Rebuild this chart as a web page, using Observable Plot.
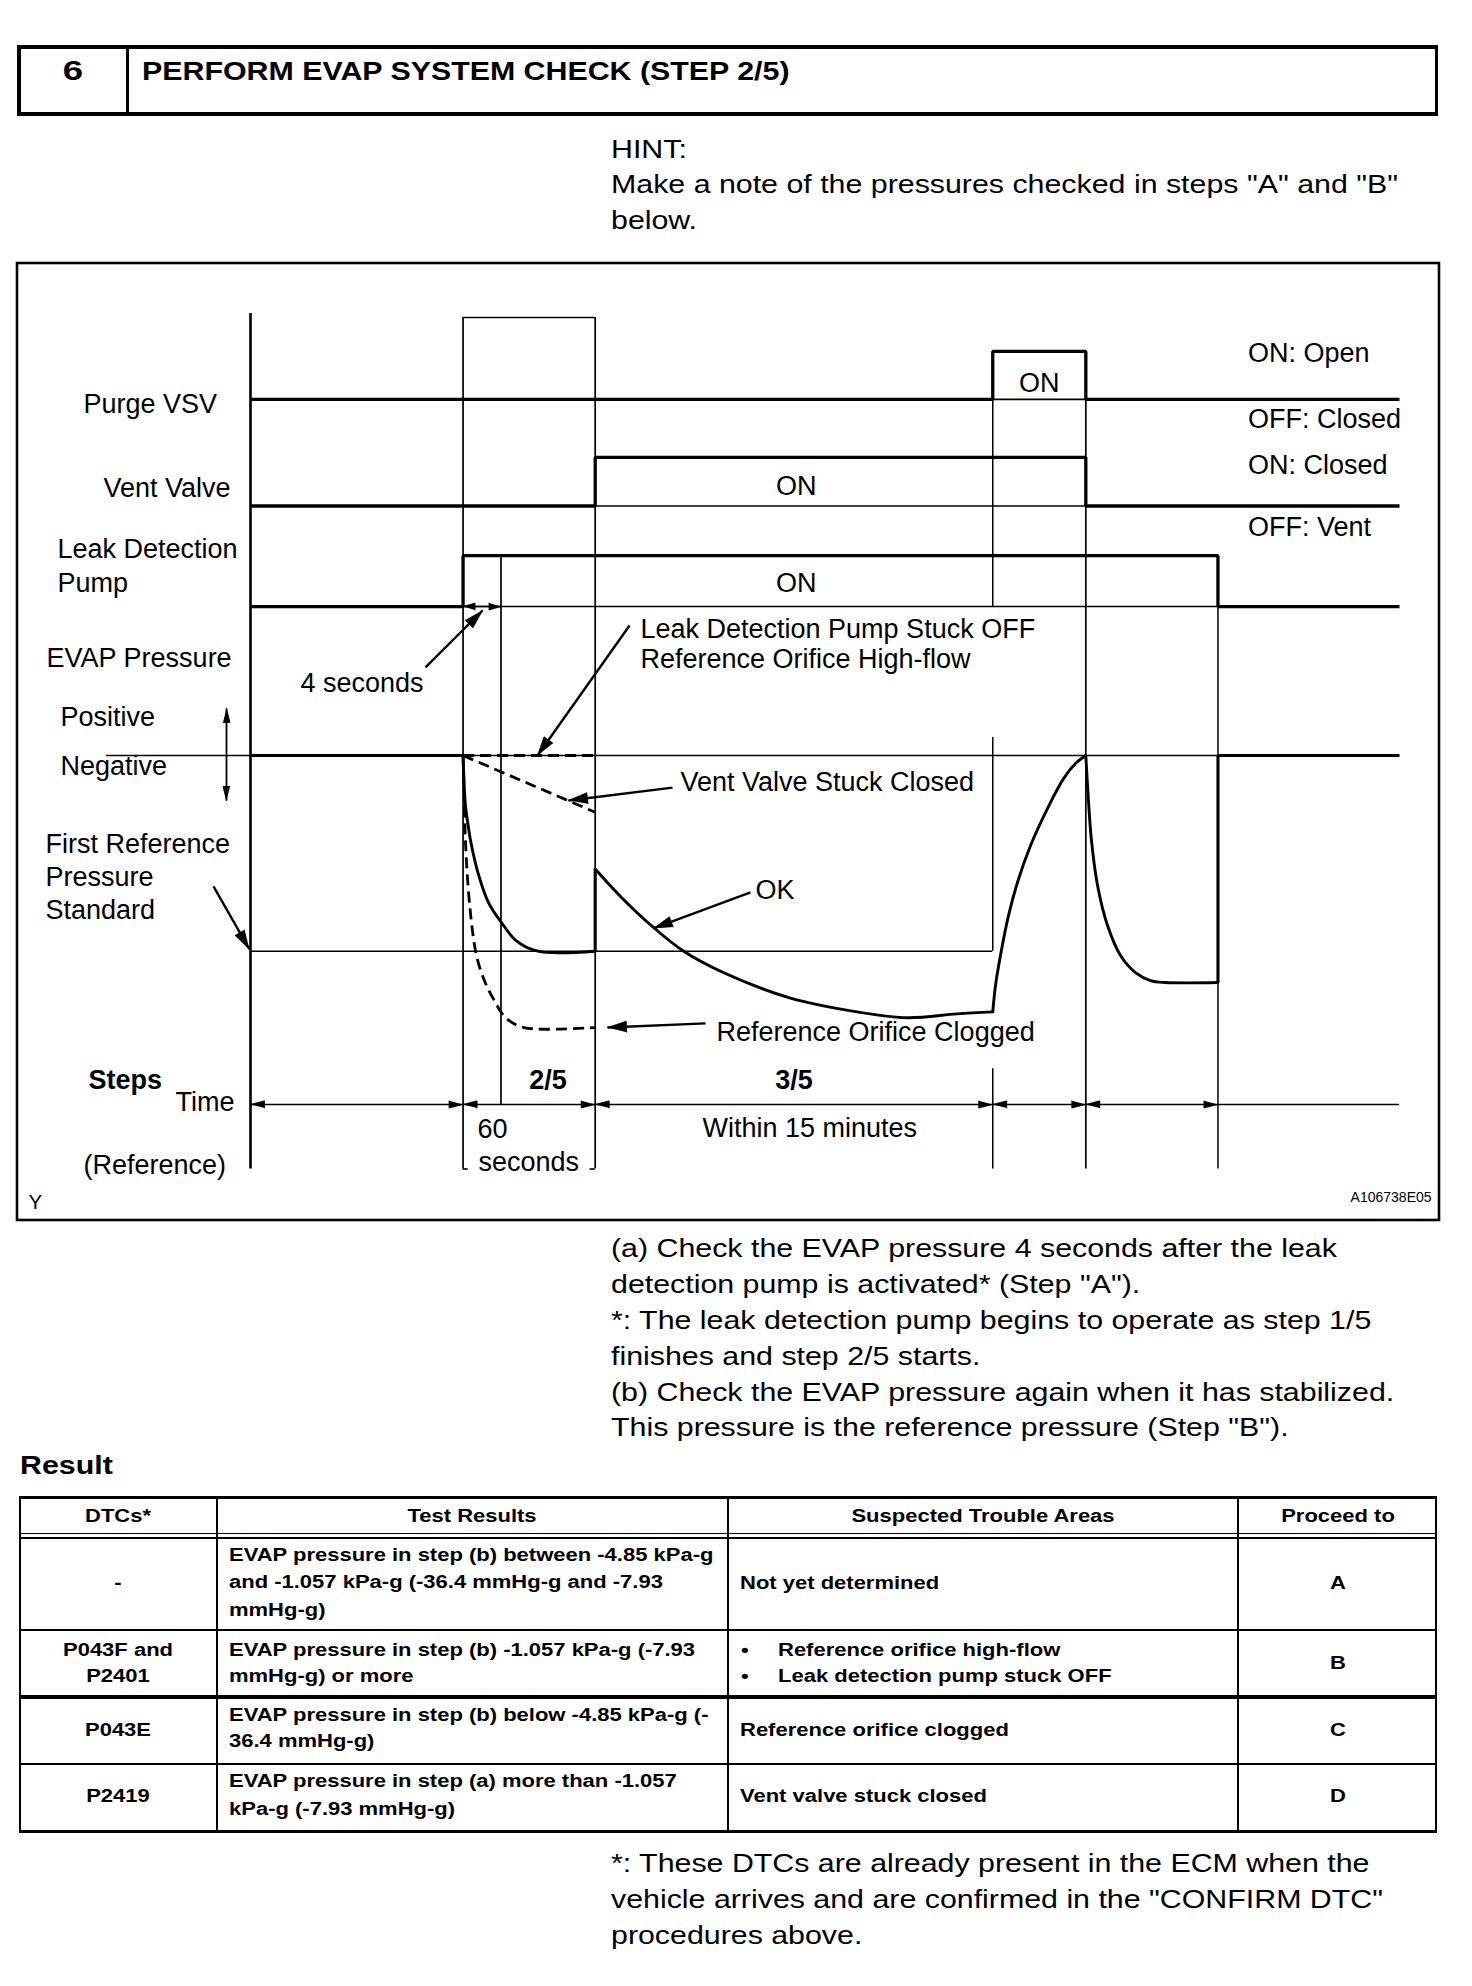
<!DOCTYPE html>
<html>
<head>
<meta charset="utf-8">
<script src="https://cdn.jsdelivr.net/npm/d3@7"></script>
<script src="https://cdn.jsdelivr.net/npm/@observablehq/plot@0.6"></script>
<style>
html, body { margin: 0; padding: 0; background: #fff; }
#page { position: relative; width: 1472px; height: 1986px; overflow: hidden; background: #fff;
  font-family: "Liberation Sans", Arial, Helvetica, sans-serif; color: #000; }
.t { position: absolute; white-space: nowrap; line-height: 1; transform-origin: 0 0; }
.ln { position: absolute; background: #000; }
#chart { position: absolute; left: 15px; top: 261px; }
</style>
</head>
<body>
<div id="page"><div id="chart"></div></div>
<script>
// ---------------- DATA ----------------
// schematic timeline units (0 = left axis, 100 = right end of the traces)
const eventNames = ["start", "pump ON / step 2/5", "4 seconds", "step 3/5 / vent ON", "purge VSV ON", "purge VSV OFF", "pump OFF", "end"];
const eventTimes = [0, 18.5, 21.8, 30.0, 64.6, 72.7, 84.2, 100];
const stepLabels = ["2/5", "3/5"];

// signal states (0 = OFF, 1 = ON)
const purgeVSV  = [[0, 0], [64.6, 1], [72.7, 0], [100, 0]];
const ventValve = [[0, 0], [30.0, 1], [72.7, 0], [100, 0]];
const leakPump  = [[0, 0], [18.5, 1], [84.2, 0], [100, 0]];
const rowNames = ["Purge VSV", "Vent Valve", "Leak Detection", "Pump", "EVAP Pressure"];
const stateNames = ["ON: Open", "OFF: Closed", "ON: Closed", "OFF: Vent"];

// EVAP pressure relative to atmosphere (0), -1 = first reference pressure standard
const okBefore = [[0, 0], [18.5, 0]];
const okStep2  = [[18.5, 0], [18.7, -0.25], [19.0, -0.38], [19.2, -0.45], [19.8, -0.60], [20.7, -0.75], [21.8, -0.85], [23.2, -0.95], [25.0, -1.0], [30.0, -1.0]];
const okJump   = [[30.0, -1.0], [30.0, -0.58]];
const okStep3  = [[30.0, -0.58], [32.2, -0.72], [35.1, -0.88], [37.7, -1.0], [41.2, -1.11], [47.0, -1.24], [52.8, -1.31], [57.2, -1.34], [61.5, -1.32], [64.6, -1.31]];
const okPurge  = [[64.6, -1.31], [64.84, -1.175], [65.27, -1.022], [65.97, -0.818], [66.75, -0.649], [67.89, -0.46], [69.36, -0.271], [70.76, -0.118], [71.8, -0.041], [72.7, 0]];
const okAfter  = [[72.7, 0], [72.93, -0.23], [73.19, -0.434], [73.72, -0.664], [74.59, -0.869], [75.72, -1.022], [77.02, -1.109], [78.33, -1.15], [79.63, -1.16], [84.2, -1.16]];
const okEnd    = [[84.2, -1.16], [84.2, 0], [100, 0]];
const pumpStuckOff    = [[18.5, 0], [30.0, 0]];
const ventStuckClosed = [[18.5, 0], [30.0, -0.29]];
const orificeClogged  = [[18.5, 0], [18.6, -0.2], [18.7, -0.43], [19.1, -0.78], [19.7, -1.03], [20.5, -1.17], [21.2, -1.25], [22.2, -1.34], [23.8, -1.39], [30.0, -1.39]];
const firstReferencePressure = -1;

// result table
const tableHeaders = ["DTCs*", "Test Results", "Suspected Trouble Areas", "Proceed to"];
const dtcs = [["-"], ["P043F and", "P2401"], ["P043E"], ["P2419"]];
const testResults = [
  ["EVAP pressure in step (b) between -4.85 kPa-g", "and -1.057 kPa-g (-36.4 mmHg-g and -7.93", "mmHg-g)"],
  ["EVAP pressure in step (b) -1.057 kPa-g (-7.93", "mmHg-g) or more"],
  ["EVAP pressure in step (b) below -4.85 kPa-g (-", "36.4 mmHg-g)"],
  ["EVAP pressure in step (a) more than -1.057", "kPa-g (-7.93 mmHg-g)"]
];
const troubleAreas = [["Not yet determined"], ["Reference orifice high-flow", "Leak detection pump stuck OFF"], ["Reference orifice clogged"], ["Vent valve stuck closed"]];
const proceedTo = ["A", "B", "C", "D"];

const hintLines = ["HINT:", "Make a note of the pressures checked in steps \"A\" and \"B\"", "below."];
const noteLines = [
  "(a) Check the EVAP pressure 4 seconds after the leak",
  "detection pump is activated* (Step \"A\").",
  "*: The leak detection pump begins to operate as step 1/5",
  "finishes and step 2/5 starts.",
  "(b) Check the EVAP pressure again when it has stabilized.",
  "This pressure is the reference pressure (Step \"B\")."
];
const footLines = [
  "*: These DTCs are already present in the ECM when the",
  "vehicle arrives and are confirmed in the \"CONFIRM DTC\"",
  "procedures above."
];

// ---------------- HTML PARTS ----------------
const page = document.getElementById("page");
function txt(str, x, base, o = {}) {
  const size = o.size ?? 25.5, sx = o.sx ?? 1.19;
  const d = document.createElement("div");
  d.className = "t";
  d.textContent = str;
  d.style.fontSize = size + "px";
  if (o.bold) d.style.fontWeight = "bold";
  d.style.left = x + "px";
  d.style.top = (base - 0.8465 * size) + "px";
  d.style.transform = o.center ? `scaleX(${sx}) translateX(-50%)` : `scaleX(${sx})`;
  page.appendChild(d);
}
function bar(x, y, w, h) {
  const d = document.createElement("div");
  d.className = "ln";
  Object.assign(d.style, {left: x + "px", top: y + "px", width: w + "px", height: h + "px"});
  page.appendChild(d);
}
// header box
bar(17, 45, 1421, 3.5); bar(17, 112, 1421, 4); bar(17, 45, 3.5, 71); bar(1434.5, 45, 3.5, 71); bar(125.5, 45, 3.5, 71);
txt("6", 73, 81, {bold: true, center: true, size: 27, sx: 1.35});
txt("PERFORM EVAP SYSTEM CHECK (STEP 2/5)", 142, 81, {bold: true});
hintLines.forEach((s, i) => txt(s, 611, 158.3 + i * 35.5));
noteLines.forEach((s, i) => txt(s, 611, 1258 + i * 35.8));
txt("Result", 20, 1475, {bold: true});
footLines.forEach((s, i) => txt(s, 611, 1873 + i * 36));

// table
const TX = [18.5, 216.5, 728, 1238, 1437];
bar(18.5, 1496, 1418.5, 3);
bar(18.5, 1532.5, 1418.5, 1.8); bar(18.5, 1537, 1418.5, 1.8);
bar(18.5, 1629, 1418.5, 2); bar(18.5, 1694.5, 1418.5, 4); bar(18.5, 1762.5, 1418.5, 2.5); bar(18.5, 1829.5, 1418.5, 3);
bar(18.5, 1496, 2.5, 336); bar(215.5, 1496, 2, 336); bar(727, 1496, 2, 336); bar(1237, 1496, 2, 336); bar(1434.5, 1496, 2.5, 336);
const TF = {size: 17.6, sx: 1.25, bold: true};
const colCenter = i => (TX[i] + TX[i + 1]) / 2;
tableHeaders.forEach((h, i) => txt(h, colCenter(i), 1523, {...TF, center: true}));
const rowTestBase = [[1562, 1588.5, 1616.5], [1657, 1683], [1722, 1748], [1788, 1816]];
const rowMid = [1590, 1670, 1737, 1803];
dtcs.forEach((lines, r) => {
  const bases = lines.length === 1 ? [rowMid[r]] : rowTestBase[r];
  lines.forEach((s, k) => txt(s, colCenter(0), bases[k], {...TF, center: true}));
});
testResults.forEach((lines, r) => lines.forEach((s, k) => txt(s, 229, rowTestBase[r][k], TF)));
troubleAreas.forEach((lines, r) => {
  if (lines.length === 1) txt(lines[0], 740, rowMid[r], TF);
  else lines.forEach((s, k) => { txt("\u2022", 741, rowTestBase[r][k], TF); txt(s, 778, rowTestBase[r][k], TF); });
});
proceedTo.forEach((s, r) => txt(s, colCenter(3), rowMid[r], {...TF, center: true}));

// ---------------- DIAGRAM (Observable Plot) ----------------
const X_DOMAIN = [0, 100], X_RANGE = [235, 1384];
const Y_DOMAIN = [-1, 0], Y_RANGE = [689.7, 494];
const kx = (X_RANGE[1] - X_RANGE[0]) / (X_DOMAIN[1] - X_DOMAIN[0]);
const ky = (Y_RANGE[0] - Y_RANGE[1]) / (Y_DOMAIN[1] - Y_DOMAIN[0]);
const [T0, T_PUMP, T_4S, T_VENT, T_PURGE_ON, T_PURGE_OFF, T_PUMP_OFF, T_END] = eventTimes;

// layout of the signal rows (in pressure units of the y scale)
const ROWS = {purge: {base: 1.82, amp: 0.245}, vent: {base: 1.275, amp: 0.248}, pump: {base: 0.761, amp: 0.26}};
const V_TIME = -1.783, V_BOTTOM = -2.113, V_BOX = 2.238, V_AXIS_TOP = 2.259;
const rowY = (row, s) => ROWS[row].base + s * ROWS[row].amp;

const signals = [["purge", purgeVSV], ["vent", ventValve], ["pump", leakPump]];
const signalData = signals.flatMap(([row, arr]) => arr.map(([t, s]) => ({id: row, t, v: rowY(row, s)})));
// thin OFF baselines under each ON interval
const onBase = signals.flatMap(([row, arr]) => {
  const out = [];
  for (let i = 0; i < arr.length - 1; i++) if (arr[i][1] === 1) out.push({t1: arr[i][0], t2: arr[i + 1][0], v: rowY(row, 0)});
  return out;
});

const seg = (arr, id) => arr.map(([t, v]) => ({id, t, v}));
const okStraight = [...seg(okBefore, "a"), ...seg(okJump, "b"), ...seg(okEnd, "c")];
const okCurved = [...seg(okStep2, "a"), ...seg(okStep3, "b"), ...seg(okPurge, "c"), ...seg(okAfter, "d")];
const dashStraight = [...seg(pumpStuckOff, "a"), ...seg(ventStuckClosed, "b")];
const dashCurved = seg(orificeClogged, "c");

const vGuides = [
  {t: T0, v1: V_AXIS_TOP, v2: V_BOTTOM, w: 2.6},
  {t: T_PUMP, v1: V_BOX, v2: V_BOTTOM, w: 1.7},
  {t: T_4S, v1: rowY("pump", 1), v2: V_TIME, w: 1.7},
  {t: T_VENT, v1: V_BOX, v2: V_BOTTOM, w: 1.7},
  {t: T_PURGE_ON, v1: rowY("purge", 1), v2: rowY("pump", 0), w: 1.5},
  {t: T_PURGE_ON, v1: 0.092, v2: firstReferencePressure, w: 1.5},
  {t: T_PURGE_ON, v1: -1.601, v2: V_BOTTOM, w: 1.5},
  {t: T_PURGE_OFF, v1: rowY("purge", 1), v2: V_BOTTOM, w: 1.7},
  {t: T_PUMP_OFF, v1: rowY("pump", 1), v2: V_BOTTOM, w: 1.5}
];
const hGuides = [
  {t1: -12.53, t2: T_END, v: 0},
  {t1: T0, t2: T_PURGE_ON, v: firstReferencePressure},
  {t1: T_PUMP, t2: T_VENT, v: V_BOX},
  {t1: T0, t2: T_END, v: V_TIME},
  {t1: T_PUMP, t2: T_PUMP + 0.45, v: V_BOTTOM},
  {t1: T_VENT - 0.45, t2: T_VENT, v: V_BOTTOM},
  ...onBase
];

// arrow heads (filled triangles) computed in screen space
const heads = [];
let hid = 0;
function addHead(tip, from, len, r) {
  const dx = (tip[0] - from[0]) * kx, dy = -(tip[1] - from[1]) * ky;
  const n = Math.hypot(dx, dy), ux = dx / n, uy = dy / n;
  const bx = -ux * len, by = -uy * len, nx = -uy * r, ny = ux * r;
  const id = hid++;
  for (const [px, py] of [[0, 0], [bx + nx, by + ny], [bx - nx, by - ny]]) heads.push({id, t: tip[0] + px / kx, v: tip[1] - py / ky});
}
const shafts = [];
// annotation leaders [tail, tip]
const leaders = [
  [[15.23, 0.450], [20.19, 0.741]],
  [[32.99, 0.664], [24.98, 0]],
  [[36.73, -0.164], [27.68, -0.230]],
  [[43.52, -0.700], [35.07, -0.884]],
  [[39.60, -1.369], [31.07, -1.390]],
  [[-3.22, -0.669], [-0.1, -0.99]]
];
leaders.forEach(([a, b]) => { shafts.push({t1: a[0], v1: a[1], t2: b[0], v2: b[1], w: 2.4}); addHead(b, a, 19, 5.5); });
// double arrows
function dbl(a, b, len, r, w) { shafts.push({t1: a[0], v1: a[1], t2: b[0], v2: b[1], w}); addHead(a, b, len, r); addHead(b, a, len, r); }
dbl([-2.09, 0.240], [-2.09, -0.230], 14, 3.5, 1.8);
dbl([T_PUMP, rowY("pump", 0)], [T_4S, rowY("pump", 0)], 12, 3.5, 1.5);
const axisMarks = [T0, T_PUMP, T_VENT, T_PURGE_ON, T_PURGE_OFF, T_PUMP_OFF];
for (let i = 0; i < axisMarks.length - 1; i++) {
  addHead([axisMarks[i], V_TIME], [axisMarks[i + 1], V_TIME], 14, 3.6);
  addHead([axisMarks[i + 1], V_TIME], [axisMarks[i], V_TIME], 14, 3.6);
}

// text layout (t, v in the chart's units; baseline at v)
const startLabels = [
  {text: rowNames[0], t: -14.53, v: 1.748},
  {text: rowNames[1], t: -12.79, v: 1.323},
  {text: rowNames[2], t: -16.80, v: 1.007},
  {text: rowNames[3], t: -16.80, v: 0.833},
  {text: rowNames[4], t: -17.75, v: 0.450},
  {text: "Positive", t: -16.54, v: 0.153},
  {text: "Negative", t: -16.54, v: -0.102},
  {text: "First Reference", t: -17.84, v: -0.496},
  {text: "Pressure", t: -17.84, v: -0.669},
  {text: "Standard", t: -17.84, v: -0.838},
  {text: "Time", t: -6.53, v: -1.818},
  {text: "(Reference)", t: -14.53, v: -2.141},
  {text: stateNames[0], t: 86.81, v: 2.013},
  {text: stateNames[1], t: 86.81, v: 1.671},
  {text: stateNames[2], t: 86.81, v: 1.436},
  {text: stateNames[3], t: 86.81, v: 1.124},
  {text: "Leak Detection Pump Stuck OFF", t: 33.94, v: 0.598},
  {text: "Reference Orifice High-flow", t: 33.94, v: 0.445},
  {text: "4 seconds", t: 4.35, v: 0.322},
  {text: "Vent Valve Stuck Closed", t: 37.42, v: -0.179},
  {text: "OK", t: 43.95, v: -0.731},
  {text: "Reference Orifice Clogged", t: 40.56, v: -1.461},
  {text: "60", t: 19.76, v: -1.952},
  {text: "seconds", t: 19.84, v: -2.125},
  {text: "Within 15 minutes", t: 39.34, v: -1.947}
];
const onLabels = [
  {text: "ON", t: (T_PURGE_ON + T_PURGE_OFF) / 2, v: 1.855},
  {text: "ON", t: 47.5, v: 1.329},
  {text: "ON", t: 47.5, v: 0.833}
];
const stepText = [
  {text: stepLabels[0], t: (T_4S + T_VENT) / 2, v: -1.706},
  {text: stepLabels[1], t: (T_VENT + T_PURGE_ON) / 2, v: -1.706}
];

const FONT = "'Liberation Sans', Arial, Helvetica, sans-serif";
const chart = Plot.plot({
  width: 1425, height: 960,
  marginTop: 0, marginRight: 0, marginBottom: 0, marginLeft: 0,
  x: {domain: X_DOMAIN, range: X_RANGE, axis: null},
  y: {domain: Y_DOMAIN, range: Y_RANGE, axis: null},
  style: {fontFamily: FONT, color: "black", background: "white", overflow: "visible"},
  marks: [
    Plot.frame({stroke: "black", strokeWidth: 2.6, inset: 1.5}),
    Plot.ruleX(vGuides, {x: "t", y1: "v1", y2: "v2", stroke: "black", strokeWidth: d => d.w}),
    Plot.ruleY(hGuides, {y: "v", x1: "t1", x2: "t2", stroke: "black", strokeWidth: 1.6}),
    Plot.line(signalData, {x: "t", y: "v", z: "id", curve: "step-after", stroke: "black", strokeWidth: 3.3, strokeLinejoin: "miter", strokeLinecap: "butt"}),
    Plot.line(okStraight, {x: "t", y: "v", z: "id", stroke: "black", strokeWidth: 3.1, strokeLinejoin: "miter", strokeLinecap: "butt"}),
    Plot.line(okCurved, {x: "t", y: "v", z: "id", curve: "catmull-rom", stroke: "black", strokeWidth: 2.9}),
    Plot.line(dashStraight, {x: "t", y: "v", z: "id", stroke: "black", strokeWidth: 2.8, strokeDasharray: "11,6", strokeLinecap: "butt"}),
    Plot.line(dashCurved, {x: "t", y: "v", z: "id", curve: "catmull-rom", stroke: "black", strokeWidth: 2.8, strokeDasharray: "11,6", strokeLinecap: "butt"}),
    Plot.link(shafts, {x1: "t1", y1: "v1", x2: "t2", y2: "v2", stroke: "black", strokeWidth: d => d.w}),
    Plot.line(heads, {x: "t", y: "v", z: "id", fill: "black", stroke: "black", strokeWidth: 0.8, strokeLinejoin: "miter"}),
    Plot.text(startLabels, {x: "t", y: "v", text: "text", textAnchor: "start", lineAnchor: "bottom", fontSize: 27, fontFamily: FONT, fill: "black"}),
    Plot.text(onLabels, {x: "t", y: "v", text: "text", textAnchor: "middle", lineAnchor: "bottom", fontSize: 27, fontFamily: FONT, fill: "black"}),
    Plot.text(stepText, {x: "t", y: "v", text: "text", textAnchor: "middle", lineAnchor: "bottom", fontSize: 27, fontWeight: "bold", fontFamily: FONT, fill: "black"}),
    Plot.text([{text: "Steps", t: -14.10, v: -1.706}], {x: "t", y: "v", text: "text", textAnchor: "start", lineAnchor: "bottom", fontSize: 27, fontWeight: "bold", fontFamily: FONT, fill: "black"}),
    Plot.text([{text: "Y", t: -19.32, v: -2.315}], {x: "t", y: "v", text: "text", textAnchor: "start", lineAnchor: "bottom", fontSize: 20.5, fontFamily: FONT, fill: "black"}),
    Plot.text([{text: "A106738E05", t: 102.79, v: -2.279}], {x: "t", y: "v", text: "text", textAnchor: "end", lineAnchor: "bottom", fontSize: 14, fontFamily: FONT, fill: "black"})
  ]
});
document.getElementById("chart").appendChild(chart);
</script>
</body>
</html>
